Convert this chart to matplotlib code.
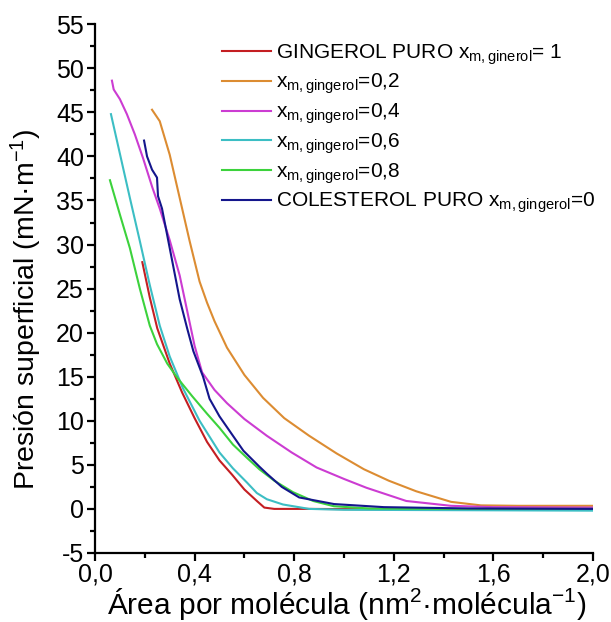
import matplotlib
matplotlib.use("Agg")
import matplotlib.pyplot as plt
from matplotlib.ticker import MultipleLocator, FuncFormatter

plt.rcParams['font.family'] = ['Liberation Sans', 'DejaVu Sans']
plt.rcParams['mathtext.fontset'] = 'custom'
plt.rcParams['mathtext.rm'] = 'Liberation Sans'
plt.rcParams['mathtext.it'] = 'Liberation Sans:italic'
plt.rcParams['mathtext.default'] = 'regular'
plt.rcParams['axes.unicode_minus'] = False

# ---- data ----
labels = [
    "GINGEROL PURO x$_{m,ginerol}$= 1",
    "x$_{m,gingerol}$=0,2",
    "x$_{m,gingerol}$=0,4",
    "x$_{m,gingerol}$=0,6",
    "x$_{m,gingerol}$=0,8",
    "COLESTEROL PURO x$_{m,gingerol}$=0",
]
colors = ["#C41E22", "#DC8C32", "#CC3CD2", "#3CBEC4", "#3CD23C", "#14168C"]

x_g100 = [0.19, 0.22, 0.25, 0.30, 0.35, 0.40, 0.45, 0.50, 0.55, 0.60, 0.65, 0.68, 0.72, 0.85, 1.2, 2.0]
y_g100 = [28.0, 24.0, 20.5, 16.5, 13.2, 10.3, 7.6, 5.5, 3.9, 2.2, 0.9, 0.15, 0.0, 0.0, -0.05, -0.1]

x_g20 = [0.229, 0.26, 0.30, 0.34, 0.38, 0.42, 0.45, 0.48, 0.53, 0.60, 0.675, 0.76, 0.86, 0.97, 1.08, 1.18, 1.29, 1.43, 1.55, 1.7, 2.0]
y_g20 = [45.3, 44.0, 40.2, 35.3, 30.4, 25.8, 23.4, 21.3, 18.3, 15.2, 12.6, 10.3, 8.3, 6.3, 4.5, 3.2, 2.0, 0.8, 0.4, 0.35, 0.35]

x_g40 = [0.068, 0.075, 0.10, 0.128, 0.16, 0.193, 0.23, 0.261, 0.30, 0.34, 0.37, 0.40, 0.43, 0.48, 0.53, 0.60, 0.69, 0.79, 0.89, 1.0, 1.09, 1.25, 1.43, 1.6, 2.0]
y_g40 = [48.6, 47.6, 46.5, 44.8, 42.5, 39.8, 36.5, 34.0, 30.5, 26.5, 22.5, 18.5, 15.5, 13.5, 12.0, 10.2, 8.3, 6.4, 4.7, 3.4, 2.4, 0.9, 0.35, 0.2, 0.15]

x_g60 = [0.064, 0.10, 0.14, 0.18, 0.22, 0.26, 0.30, 0.353, 0.42, 0.50, 0.554, 0.61, 0.65, 0.69, 0.755, 0.86, 1.0, 2.0]
y_g60 = [44.8, 40.3, 35.3, 30.4, 25.4, 20.8, 17.3, 13.7, 10.0, 6.4, 4.6, 3.0, 1.8, 1.1, 0.5, 0.0, -0.1, -0.2]

x_g80 = [0.06, 0.10, 0.14, 0.18, 0.22, 0.249, 0.29, 0.33, 0.39, 0.45, 0.50, 0.554, 0.61, 0.66, 0.72, 0.795, 0.876, 0.96, 1.1, 1.4, 2.0]
y_g80 = [37.3, 33.4, 29.6, 25.0, 20.8, 18.7, 16.5, 14.9, 12.8, 10.8, 9.2, 7.3, 5.8, 4.5, 3.2, 1.9, 0.9, 0.3, 0.05, 0.0, 0.0]

x_col = [0.197, 0.209, 0.229, 0.249, 0.253, 0.269, 0.30, 0.34, 0.37, 0.395, 0.434, 0.46, 0.50, 0.554, 0.596, 0.66, 0.69, 0.75, 0.82, 0.96, 1.16, 1.5, 2.0]
y_col = [41.8, 40.0, 38.5, 37.6, 35.5, 34.1, 29.6, 23.8, 20.5, 17.9, 15.0, 12.5, 10.5, 8.3, 6.6, 4.8, 4.0, 2.5, 1.3, 0.55, 0.2, 0.05, 0.0]

series_x = [x_g100, x_g20, x_g40, x_g60, x_g80, x_col]
series_y = [y_g100, y_g20, y_g40, y_g60, y_g80, y_col]

fig = plt.figure(figsize=(6.11, 6.22), dpi=100)
ax = fig.add_axes([0.1555, 0.111, 0.815, 0.850])

for xs, ys, lab, c in zip(series_x, series_y, labels, colors):
    ax.plot(xs, ys, color=c, lw=1.5, label=lab)

ax.set_xlim(0, 2.0)
ax.set_ylim(-5, 55)
ax.xaxis.set_major_locator(MultipleLocator(0.4))
ax.xaxis.set_minor_locator(MultipleLocator(0.2))
ax.yaxis.set_major_locator(MultipleLocator(5))
ax.yaxis.set_minor_locator(MultipleLocator(2.5))
ax.xaxis.set_major_formatter(FuncFormatter(lambda v, p: f"{v:.1f}".replace('.', ',')))
ax.yaxis.set_major_formatter(FuncFormatter(lambda v, p: f"{v:.0f}"))

for s in ['top', 'right']:
    ax.spines[s].set_visible(False)
for s in ['left', 'bottom']:
    ax.spines[s].set_linewidth(1.6)
ax.tick_params(which='major', direction='out', length=6, width=1.6, labelsize=18, pad=2)
ax.tick_params(axis='x', which='major', pad=1)
ax.tick_params(which='minor', direction='out', length=3.5, width=1.6)

ax.set_xlabel("Área por molécula (nm$^{2}$·molécula$^{-1}$)", fontsize=21.5)
ax.xaxis.set_label_coords(0.505, -0.063)
ax.set_ylabel("Presión superficial (mN·m$^{-1}$)", fontsize=20.5)
ax.yaxis.set_label_coords(-0.102, 0.46)

leg = ax.legend(loc='upper left', bbox_to_anchor=(0.255, 0.966), frameon=False,
                fontsize=15, handlelength=2.35, handletextpad=0.25,
                labelspacing=0.25, borderpad=0, borderaxespad=0)

fig.savefig("out.png", dpi=100)
